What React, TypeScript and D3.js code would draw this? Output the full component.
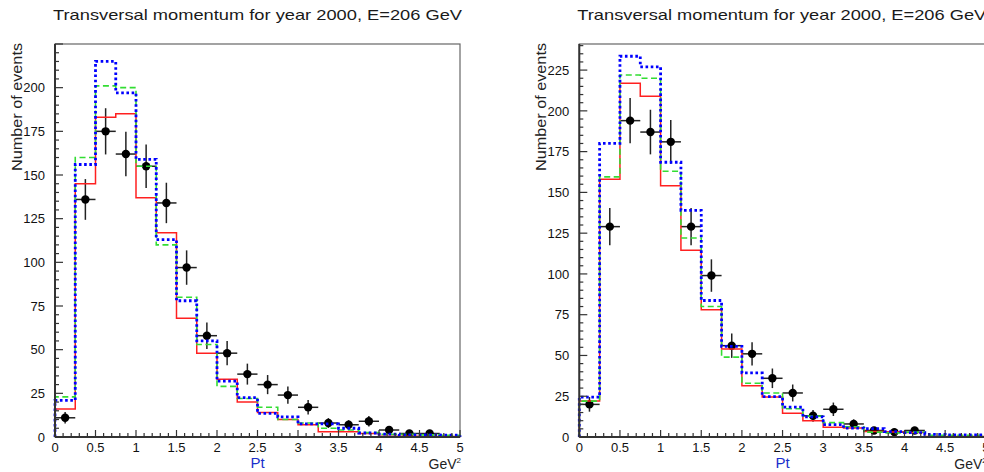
import React from 'react';
import * as d3 from 'd3';

// ---------- data ----------
const binEdges = d3.range(0, 5.0001, 0.25); // 20 bins of width 0.25 GeV
const xTickLabels = ['0', '0.5', '1', '1.5', '2', '2.5', '3', '3.5', '4', '4.5', '5'];
const xTickValues = [0, 0.5, 1, 1.5, 2, 2.5, 3, 3.5, 4, 4.5, 5];
const titleText = 'Transversal momentum for year 2000, E=206 GeV';
const yAxisTitle = 'Number of events';
const xAxisTitle = 'Pt';

// left panel
const leftData = [11, 136, 175, 162, 155, 134, 97, 58, 48, 36, 30, 24, 17, 8, 7, 9, 4, 2, 2, 0];
const leftRed = [16, 145, 183, 185, 137, 117, 68, 48, 33, 20, 14, 10, 7, 3, 3, 2, 0.5, 0.5, 0.3, 0.3];
const leftGreen = [23, 160, 201, 200, 155, 110, 80, 53, 29, 22, 17, 10, 8, 5, 4, 2.5, 1.5, 1.5, 1.2, 1];
const leftBlue = [21, 156, 215, 197, 159, 113, 78, 55, 32, 22.5, 13.5, 11.5, 7.5, 7.5, 5, 2.3, 1.7, 1.2, 1.2, 1];
const leftYMax = 225;

// right panel
const rightData = [20, 129, 194, 187, 181, 129, 99, 56, 51, 36, 27, 13, 17, 8, 4, 3, 4, 0, 0, 0];
const rightRed = [22, 158, 217, 209, 154, 114.5, 78, 54, 31.5, 24.5, 14.5, 10, 6, 5.5, 3.3, 3, 2.7, 0.3, 0.3, 0.3];
const rightGreen = [22, 159.5, 222, 220, 163, 122, 80, 49, 33, 27, 17.3, 12.8, 8.8, 6.3, 3, 2.5, 3, 1, 1, 1];
const rightBlue = [24.5, 180, 233.5, 227, 168.5, 139, 83.7, 55.6, 39.3, 24.7, 18.3, 12.4, 7.6, 5.5, 5.1, 3.3, 2.7, 1.6, 1.3, 1.3];
const rightYMax = 241;

const W = 984;
const H = 472;
const TOP = 44;
const BOTTOM = 437;

type PanelProps = {
  x0: number;
  x1: number;
  yMax: number;
  data: number[];
  red: number[];
  green: number[];
  blue: number[];
};

function Panel({ x0, x1, yMax, data, red, green, blue }: PanelProps) {
  const x = d3.scaleLinear().domain([0, 5]).range([x0, x1]);
  const y = d3.scaleLinear().domain([0, yMax]).range([BOTTOM, TOP]);

  const stepPts = (vals: number[]) => {
    const pts: [number, number][] = [[0, 0]];
    vals.forEach((v, i) => {
      pts.push([binEdges[i], v]);
      pts.push([binEdges[i + 1], v]);
    });
    pts.push([5, 0]);
    return pts;
  };
  const line = d3
    .line<[number, number]>()
    .x((d) => x(d[0]))
    .y((d) => y(d[1]));

  const yMajor = d3.range(0, yMax + 0.001, 25);
  const yMinor = d3.range(0, yMax + 0.001, 5).filter((v) => v % 25 !== 0);
  const xMajor = xTickValues;
  const xMinor = d3.range(0, 5.0001, 0.1).filter((v) => Math.abs(v * 2 - Math.round(v * 2)) > 0.01);

  const tickFont = '"Liberation Sans", Arial, sans-serif';

  return (
    <g>
      <rect x={x0} y={TOP} width={x1 - x0} height={BOTTOM - TOP} fill="white" stroke="#666" strokeWidth={1.2} />
      {/* data points */}
      {data.map((v, i) => {
        if (v <= 0) return null;
        const cx = x((binEdges[i] + binEdges[i + 1]) / 2);
        const e = Math.sqrt(v);
        return (
          <g key={'d' + i}>
            <line x1={x(binEdges[i])} x2={x(binEdges[i + 1])} y1={y(v)} y2={y(v)} stroke="#222" strokeWidth={1.5} />
            <line x1={cx} x2={cx} y1={y(v - e)} y2={y(v + e)} stroke="#222" strokeWidth={1.5} />
            <circle cx={cx} cy={y(v)} r={4.2} fill="black" />
          </g>
        );
      })}
      <path d={line(stepPts(red)) || ''} fill="none" stroke="#ff2020" strokeWidth={1.5} />
      <path d={line(stepPts(green)) || ''} fill="none" stroke="#33dd33" strokeWidth={1.6} strokeDasharray="6 3.5" />
      <path d={line(stepPts(blue)) || ''} fill="none" stroke="#0000ff" strokeWidth={2.8} strokeDasharray="2.6 2.6" />

      {/* axes */}
      <line x1={x0} x2={x0} y1={TOP} y2={BOTTOM} stroke="#333" strokeWidth={2} />
      <line x1={x0} x2={x1} y1={BOTTOM} y2={BOTTOM} stroke="#333" strokeWidth={2} />
      {yMajor.map((v) => (
        <line key={'ym' + v} x1={x0} x2={x0 + 8} y1={y(v)} y2={y(v)} stroke="#333" strokeWidth={1.2} />
      ))}
      {yMinor.map((v) => (
        <line key={'yn' + v} x1={x0} x2={x0 + 4} y1={y(v)} y2={y(v)} stroke="#333" strokeWidth={1.2} />
      ))}
      {yMajor
        .filter((v) => y(v) > TOP + 6)
        .map((v) => (
          <text key={'yl' + v} x={x0 - 10} y={y(v) + 4.7} textAnchor="end" fontFamily={tickFont} fontSize={13} fill="#111">
            {String(v)}
          </text>
        ))}
      {xMajor.map((v) => (
        <line key={'xm' + v} x1={x(v)} x2={x(v)} y1={BOTTOM} y2={BOTTOM - 7} stroke="#333" strokeWidth={1.2} />
      ))}
      {xMinor.map((v, i) => (
        <line key={'xn' + i} x1={x(v)} x2={x(v)} y1={BOTTOM} y2={BOTTOM - 4} stroke="#333" strokeWidth={1.2} />
      ))}
      {xMajor.map((v, i) => (
        <text key={'xl' + v} x={x(v)} y={452} textAnchor="middle" fontFamily={tickFont} fontSize={13} fill="#111">
          {xTickLabels[i]}
        </text>
      ))}
      <text x={(x0 + x1) / 2} y={468} textAnchor="middle" fontFamily={tickFont} fontSize={15} fill="#1a2fcc">
        {xAxisTitle}
      </text>
      <text x={x1 + 1} y={469} textAnchor="end" fontFamily={tickFont} fontSize={14} fill="#222">
        GeV<tspan dy={-6} fontSize={8}>2</tspan>
      </text>
      <text
        transform={`translate(${x0 - 33.5},${TOP - 1}) rotate(-90)`}
        textAnchor="end"
        textLength={128}
        lengthAdjust="spacingAndGlyphs"
        fontFamily={tickFont}
        fontSize={15.5}
        fill="#222"
      >
        {yAxisTitle}
      </text>
      <text
        x={x0 - 2}
        y={20}
        textLength={409}
        lengthAdjust="spacingAndGlyphs"
        fontFamily={tickFont}
        fontSize={15}
        fill="#1a1a1a"
      >
        {titleText}
      </text>
    </g>
  );
}

export default function App() {
  return (
    <svg
      width={W}
      height={H}
      style={{ position: 'absolute', left: 0, top: 0, background: 'white', overflow: 'hidden' }}
    >
      <rect x={0} y={0} width={W} height={H} fill="white" />
      <Panel x0={55} x1={460} yMax={leftYMax} data={leftData} red={leftRed} green={leftGreen} blue={leftBlue} />
      <Panel x0={579.3} x1={985.8} yMax={rightYMax} data={rightData} red={rightRed} green={rightGreen} blue={rightBlue} />
    </svg>
  );
}
